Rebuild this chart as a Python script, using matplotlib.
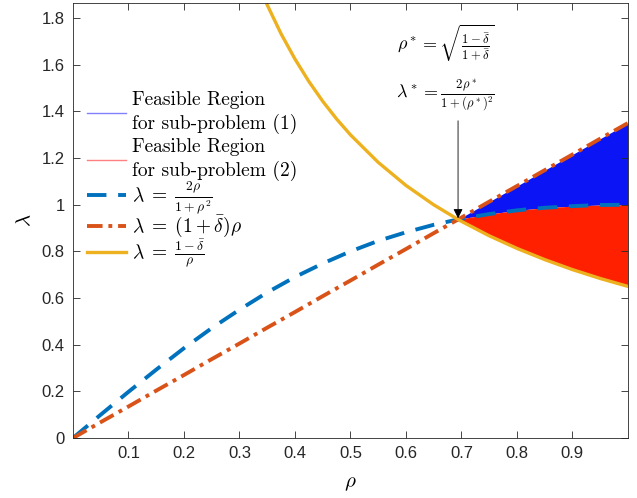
import numpy as np
import matplotlib
matplotlib.use("Agg")
from matplotlib import pyplot as plt
from matplotlib.lines import Line2D

plt.rcParams['font.family'] = ['Liberation Sans', 'DejaVu Sans']
plt.rcParams['mathtext.fontset'] = 'cm'

# values
rho = [0.0, 0.05, 0.1, 0.15, 0.2, 0.25, 0.3, 0.35, 0.4, 0.45, 0.5, 0.55, 0.6,
       0.65, 0.694, 0.7, 0.75, 0.8, 0.85, 0.9, 0.95, 1.0]
lam_blue = [0.0, 0.100, 0.198, 0.293, 0.385, 0.471, 0.550, 0.624, 0.690, 0.748,
            0.800, 0.845, 0.882, 0.914, 0.937, 0.940, 0.960, 0.976, 0.987,
            0.994, 0.999, 1.0]
lam_red = [0.0, 0.068, 0.135, 0.203, 0.270, 0.338, 0.405, 0.473, 0.540, 0.608,
           0.675, 0.743, 0.810, 0.878, 0.937, 0.945, 1.013, 1.080, 1.148,
           1.215, 1.283, 1.350]
rho_y = [0.35, 0.375, 0.4, 0.425, 0.45, 0.475, 0.5, 0.55, 0.6, 0.65, 0.694,
         0.7, 0.75, 0.8, 0.85, 0.9, 0.95, 1.0]
lam_yellow = [1.857, 1.733, 1.625, 1.529, 1.444, 1.368, 1.300, 1.182, 1.083,
              1.000, 0.937, 0.929, 0.867, 0.813, 0.765, 0.722, 0.684, 0.650]
rho_star = 0.694
lam_star = 0.937

c_blue = '#0072BD'
c_red = '#D95319'
c_yel = '#EDB120'

fig = plt.figure(figsize=(6.37, 4.98), dpi=100)
ax = fig.add_axes([0.1146, 0.1205, 0.871, 0.8735])

r = np.array(rho)
ry = np.array(rho_y)
m = r >= rho_star
my = ry >= rho_star
ax.fill_between(r[m], np.array(lam_blue)[m], np.array(lam_red)[m],
                color='#0a14f5', lw=0)
ax.fill_between(ry[my], np.array(lam_yellow)[my], np.array(lam_blue)[m],
                color='#ff2000', lw=0)

ax.plot(rho, lam_blue, color=c_blue, lw=2.8, dashes=(5, 3))
ax.plot(rho, lam_red, color=c_red, lw=2.8, dashes=(4, 1.5, 1, 1.5))
ax.plot(rho_y, lam_yellow, color=c_yel, lw=2.4)

ax.annotate('', xy=(rho_star, lam_star + 0.005), xytext=(rho_star, 1.36),
            arrowprops=dict(arrowstyle='-|>', color='k', lw=0.6,
                            mutation_scale=14, shrinkA=0, shrinkB=0))
ax.text(0.672, 1.69, r'$\rho^*=\sqrt{\frac{1-\bar{\delta}}{1+\bar{\delta}}}$',
        fontsize=13, ha='center', va='center')
ax.text(0.672, 1.465, r'$\lambda^*=\frac{2\rho^*}{1+(\rho^*)^2}$',
        fontsize=13, ha='center', va='center')

ax.set_xlim(0, 1)
ax.set_ylim(0, 1.865)
ax.set_xticks([0.1, 0.2, 0.3, 0.4, 0.5, 0.6, 0.7, 0.8, 0.9])
ax.set_xticklabels(['0.1', '0.2', '0.3', '0.4', '0.5', '0.6', '0.7', '0.8', '0.9'])
ax.set_yticks([0, 0.2, 0.4, 0.6, 0.8, 1.0, 1.2, 1.4, 1.6, 1.8])
ax.set_yticklabels(['0', '0.2', '0.4', '0.6', '0.8', '1', '1.2', '1.4', '1.6', '1.8'])
ax.tick_params(direction='in', top=True, right=True, length=5, width=0.6,
               labelsize=12, colors='#262626', pad=6)
for s in ax.spines.values():
    s.set_color('#262626')
    s.set_linewidth(0.6)
ax.set_xlabel(r'$\rho$', fontsize=15, labelpad=9)
ax.set_ylabel(r'$\lambda$', fontsize=15, labelpad=5)

# legend split in two so the rows can be spaced like the original
h1 = [Line2D([], [], color='#8080ff', lw=1),
      Line2D([], [], color='#ff8080', lw=1)]
l1 = ['Feasible Region\nfor sub-problem (1)',
      'Feasible Region\nfor sub-problem (2)']
h2 = [Line2D([], [], color=c_blue, lw=2.8, dashes=(5, 3)),
      Line2D([], [], color=c_red, lw=2.8, dashes=(4, 1.5, 1, 1.5)),
      Line2D([], [], color=c_yel, lw=2.4)]
l2 = [r'$\lambda\;=\;\frac{2\rho}{1+\rho^2}$',
      r'$\lambda\;=\;(1+\bar{\delta})\rho$',
      r'$\lambda\;=\;\frac{1-\bar{\delta}}{\rho}$']
kw = dict(frameon=False, prop={'family': 'cmr10', 'size': 14},
          handlelength=2.0, handletextpad=0.3, borderaxespad=0, borderpad=0)
leg1 = ax.legend(h1, l1, loc='center left', bbox_to_anchor=(0.025, 0.694),
                 labelspacing=0.2, **kw)
for t in leg1.get_texts():
    t.set_linespacing(1.35)
ax.add_artist(leg1)
leg2 = ax.legend(h2, l2, loc='center left', bbox_to_anchor=(0.025, 0.492),
                 labelspacing=-0.12, **kw)

fig.savefig('out.png', dpi=100)
